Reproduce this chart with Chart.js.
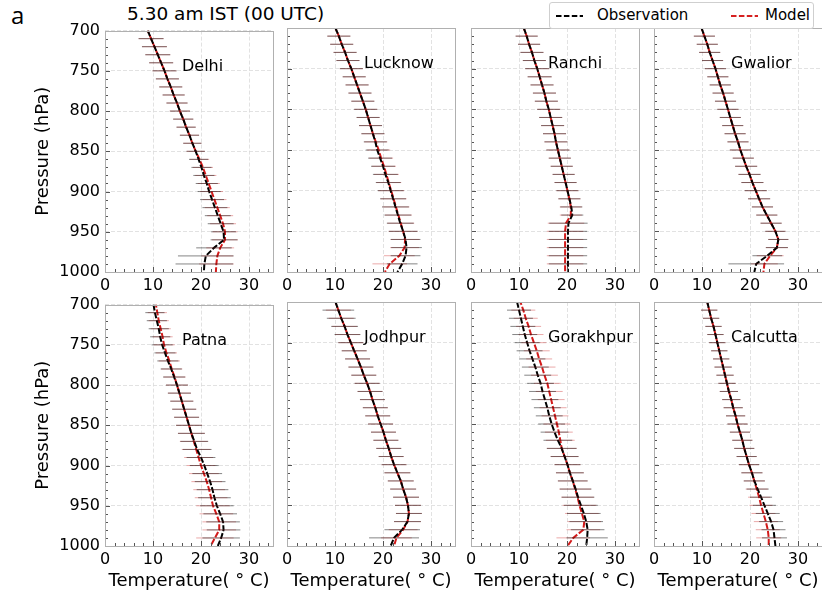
<!DOCTYPE html>
<html>
<head>
<meta charset="utf-8">
<script src="https://cdn.jsdelivr.net/npm/chart.js@4.4.1/dist/chart.umd.min.js"></script>
<style>
  body { margin: 0; background: #fff; width: 822px; height: 597px; position: relative; overflow: hidden; font-family: 'DejaVu Sans', sans-serif; }
  canvas { position: absolute; }
  #lbl-a { position: absolute; left: 11px; top: -2px; font: 24px 'Open Sans', sans-serif; color: #000; }
  #title { position: absolute; left: 127px; top: 3px; font-size: 18.5px; color: #000; white-space: nowrap; }
  #legend { position: absolute; left: 549px; top: 2px; width: 263px; height: 25px; border: 1px solid #cfcfcf; border-radius: 3px; background: #fff; z-index: 5; font-size: 15px; }
  #legend svg, #legend span { position: absolute; }
  #legend span { top: 3px; white-space: nowrap; }
</style>
</head>
<body>
<div id="lbl-a">a</div>
<div id="title">5.30 am IST (00 UTC)</div>
<div id="legend">
  <svg style="left:6px;top:11px" width="27" height="4"><line x1="0" y1="2" x2="27" y2="2" stroke="#000" stroke-width="1.8" stroke-dasharray="5.5 2.4"/></svg>
  <span style="left:47px">Observation</span>
  <svg style="left:181px;top:11px" width="27" height="4"><line x1="0" y1="2" x2="27" y2="2" stroke="#d62020" stroke-width="1.8" stroke-dasharray="5.5 2.4"/></svg>
  <span style="left:215px">Model</span>
</div>
<script>
/* ── data ─────────────────────────────────────────────── */
const LEVELS = [700,710,720,730,740,750,760,770,780,790,800,810,820,830,840,850,860,870,880,890,900,910,920,930,940,950,960,970,980,990,1000];
const BAR_LEVELS = [710,720,730,740,750,760,770,780,790,800,810,820,830,840,850,860,870,880,890,900,910,920,930,940,950,960,970,980,990];
const STATIONS = ['Delhi','Lucknow','Ranchi','Gwalior','Patna','Jodhpur','Gorakhpur','Calcutta'];
const X_TICKS = [0,10,20,30];
const Y_TICKS = [700,750,800,850,900,950,1000];

// temperature (°C) at LEVELS
const delhiObs = [8.9,9.6,10.3,11.0,11.7,12.4,13.0,13.7,14.3,15.0,15.6,16.3,16.9,17.6,18.2,18.9,19.5,20.1,20.6,21.2,21.7,22.3,22.9,23.5,24.1,24.7,24.8,22.7,21.0,20.7,20.6];
const delhiModel = [8.9,9.6,10.3,11.0,11.7,12.4,13.0,13.7,14.3,15.0,15.6,16.3,16.9,17.6,18.2,18.9,19.7,20.4,21.0,21.6,22.2,22.8,23.4,24.0,24.6,25.0,25.0,24.0,23.4,23.2,23.1];
const lucknowObs = [10.1,10.8,11.4,12.1,12.7,13.4,14.0,14.6,15.2,15.8,16.4,16.9,17.4,17.9,18.4,18.8,19.4,20.0,20.5,21.1,21.6,22.1,22.6,23.1,23.6,24.2,24.7,24.9,24.7,24.0,23.0];
const lucknowModel = [10.1,10.8,11.4,12.1,12.7,13.4,14.0,14.6,15.2,15.8,16.4,16.9,17.4,17.9,18.5,19.1,19.6,20.2,20.7,21.2,21.7,22.2,22.7,23.2,23.7,24.2,24.6,24.5,23.4,21.4,20.4];
const ranchiObs = [11.0,11.6,12.1,12.7,13.2,13.8,14.3,14.8,15.3,15.7,16.2,16.6,17.0,17.4,17.7,18.1,18.5,18.9,19.3,19.7,20.1,20.5,20.9,21.1,20.3,20.2,20.2,20.2,20.2,20.2,20.2];
const ranchiModel = [11.0,11.6,12.1,12.7,13.2,13.8,14.3,14.8,15.3,15.7,16.2,16.6,17.0,17.4,17.7,18.1,18.5,18.9,19.3,19.7,20.1,20.5,20.8,20.8,19.8,19.6,19.6,19.6,19.6,19.6,19.6];
const gwaliorObs = [9.9,10.5,11.1,11.6,12.2,12.8,13.3,13.8,14.4,14.9,15.4,15.9,16.4,16.9,17.5,18.0,18.6,19.2,19.9,20.5,21.2,21.9,22.6,23.5,24.4,25.3,25.9,25.6,23.6,21.3,20.9];
const gwaliorModel = [9.9,10.5,11.1,11.6,12.2,12.8,13.3,13.8,14.4,14.9,15.4,15.9,16.4,16.9,17.5,18.0,18.6,19.2,19.9,20.5,21.2,21.9,22.6,23.5,24.4,25.3,25.9,25.6,24.2,23.0,22.8];
const patnaObs = [10.1,10.4,10.8,11.2,11.5,11.9,12.5,13.1,13.8,14.4,15.0,15.5,16.0,16.5,17.0,17.5,18.0,18.6,19.2,20.0,20.7,21.3,21.9,22.4,22.8,23.3,24.0,24.6,24.7,24.2,23.5];
const patnaModel = [10.6,10.9,11.2,11.6,12.0,12.3,12.8,13.4,13.9,14.5,15.0,15.5,16.0,16.5,17.0,17.5,18.0,18.5,19.0,19.5,20.0,20.6,21.2,21.7,22.1,22.5,23.2,23.8,23.8,22.9,22.0];
const jodhpurObs = [10.1,10.7,11.3,12.0,12.6,13.3,14.0,14.7,15.4,16.0,16.7,17.3,17.8,18.4,18.9,19.5,20.1,20.6,21.2,21.7,22.3,23.0,23.7,24.2,24.8,25.2,25.4,25.1,24.0,22.3,21.6];
const jodhpurModel = [10.1,10.7,11.3,12.0,12.6,13.3,14.0,14.7,15.4,16.0,16.7,17.3,17.8,18.4,18.9,19.5,20.1,20.6,21.2,21.7,22.3,23.0,23.7,24.2,24.8,25.2,25.4,25.1,24.2,22.8,22.3];
const gorakhpurObs = [9.6,10.0,10.4,10.8,11.2,11.7,12.2,12.8,13.4,13.9,14.5,14.9,15.4,15.9,16.3,16.8,17.4,18.1,18.9,19.5,20.1,20.6,21.2,21.8,22.3,22.9,23.5,24.0,24.3,24.2,24.0];
const gorakhpurModel = [10.3,10.9,11.4,12.0,12.5,13.1,13.7,14.2,14.8,15.3,15.9,16.3,16.7,17.1,17.5,17.9,18.3,18.6,18.9,19.5,20.1,20.6,21.2,21.7,22.2,22.6,23.1,23.6,23.4,21.3,20.1];
const calcuttaObs = [11.1,11.5,11.9,12.4,12.8,13.2,13.6,14.0,14.4,14.8,15.2,15.6,16.1,16.5,17.0,17.4,17.9,18.4,18.8,19.3,19.8,20.4,20.9,21.6,22.3,23.0,23.7,24.4,24.9,25.1,25.3];
const calcuttaModel = [11.1,11.5,11.9,12.4,12.8,13.2,13.6,14.0,14.4,14.8,15.2,15.6,16.1,16.5,17.0,17.4,17.9,18.4,18.8,19.3,19.8,20.4,20.9,21.4,21.9,22.3,22.8,23.3,23.7,23.9,23.9];

// half-width of the spread (°C) at BAR_LEVELS
const delhiObsErr = [2.6,2.6,2.6,2.5,2.5,2.4,2.4,2.3,2.2,2.1,2.1,2.0,2.0,1.9,1.9,2.0,2.1,2.2,2.3,2.4,2.5,2.6,2.7,2.7,2.6,2.8,3.7,5.8,6.0];
const delhiModelErr = [2.6,2.6,2.6,2.5,2.5,2.4,2.4,2.3,2.2,2.1,2.1,2.0,2.0,1.9,1.9,2.0,2.1,2.2,2.3,2.4,2.5,2.6,2.7,2.7,2.6,2.7,2.9,3.3,3.6];
const lucknowObsErr = [2.4,2.4,2.4,2.4,2.4,2.4,2.4,2.4,2.4,2.4,2.4,2.4,2.4,2.4,2.4,2.5,2.5,2.6,2.6,2.7,2.7,2.8,2.8,2.8,3.0,3.1,3.2,3.1,3.2];
const lucknowModelErr = [2.4,2.4,2.4,2.4,2.4,2.4,2.4,2.4,2.4,2.4,2.4,2.4,2.4,2.4,2.4,2.5,2.5,2.6,2.6,2.7,2.7,2.8,2.8,2.8,3.0,3.0,3.0,3.2,3.6];
const ranchiObsErr = [2.3,2.3,2.4,2.4,2.5,2.5,2.4,2.4,2.4,2.4,2.4,2.4,2.4,2.4,2.4,2.3,2.3,2.3,2.3,2.3,2.3,2.3,2.3,4.0,4.0,4.0,4.0,4.0,4.0];
const ranchiModelErr = [2.3,2.3,2.4,2.4,2.5,2.5,2.4,2.4,2.4,2.4,2.4,2.4,2.4,2.4,2.4,2.3,2.3,2.3,2.3,2.3,2.3,2.3,2.3,3.8,3.8,3.8,3.8,3.8,3.8];
const gwaliorObsErr = [2.2,2.2,2.2,2.2,2.2,2.2,2.2,2.2,2.2,2.2,2.2,2.2,2.2,2.2,2.2,2.2,2.3,2.3,2.3,2.3,2.3,2.2,2.2,2.2,2.1,2.1,2.3,3.1,5.8];
const gwaliorModelErr = [2.2,2.2,2.2,2.2,2.2,2.2,2.2,2.2,2.2,2.2,2.2,2.2,2.2,2.2,2.2,2.2,2.3,2.3,2.3,2.3,2.3,2.2,2.2,2.2,2.1,2.1,2.3,2.8,2.8];
const patnaObsErr = [2.0,2.1,2.1,2.1,2.2,2.2,2.2,2.2,2.3,2.3,2.4,2.4,2.5,2.6,2.7,2.8,2.9,3.0,3.0,3.0,3.1,3.2,3.3,3.4,3.5,3.5,3.5,3.5,3.9];
const patnaModelErr = [2.0,2.1,2.1,2.1,2.2,2.2,2.2,2.2,2.3,2.3,2.4,2.4,2.5,2.6,2.7,2.8,2.9,3.0,3.0,3.0,3.1,3.2,3.3,3.4,3.5,3.5,3.5,3.5,3.9];
const jodhpurObsErr = [3.3,3.0,2.8,2.7,2.6,2.6,2.6,2.6,2.6,2.6,2.6,2.6,2.6,2.6,2.6,2.6,2.6,2.6,2.6,2.6,2.7,2.7,2.7,2.7,2.7,2.7,2.8,3.7,5.2];
const jodhpurModelErr = [2.6,2.6,2.6,2.6,2.6,2.6,2.6,2.6,2.6,2.6,2.6,2.6,2.6,2.6,2.6,2.6,2.6,2.6,2.6,2.6,2.7,2.7,2.7,2.7,2.7,2.7,2.8,3.0,3.2];
const gorakhpurObsErr = [2.5,2.5,2.6,2.6,2.6,2.7,2.7,2.8,2.8,2.8,2.8,2.8,2.8,2.8,2.8,2.9,3.0,3.1,2.9,2.7,2.9,3.1,3.3,3.4,3.5,3.5,3.5,3.5,4.3];
const gorakhpurModelErr = [2.5,2.5,2.6,2.6,2.6,2.7,2.7,2.8,2.8,2.8,2.8,2.8,2.8,2.8,2.8,2.9,3.0,3.1,2.9,2.7,2.9,3.1,3.3,3.4,3.5,3.5,3.5,3.5,3.5];
const calcuttaObsErr = [1.7,1.7,1.7,1.7,1.7,1.7,1.7,1.8,1.8,1.8,1.9,1.9,2.0,2.0,2.1,2.1,2.1,2.1,2.1,2.1,2.2,2.2,2.3,2.3,2.4,2.5,2.5,2.5,2.6];
const calcuttaModelErr = [1.7,1.7,1.7,1.7,1.7,1.7,1.7,1.8,1.8,1.8,1.9,1.9,2.0,2.0,2.1,2.1,2.1,2.1,2.1,2.1,2.2,2.2,2.3,2.3,2.4,2.5,2.5,2.5,2.6];

const OBS = [delhiObs, lucknowObs, ranchiObs, gwaliorObs, patnaObs, jodhpurObs, gorakhpurObs, calcuttaObs];
const MODEL = [delhiModel, lucknowModel, ranchiModel, gwaliorModel, patnaModel, jodhpurModel, gorakhpurModel, calcuttaModel];
const OBS_ERR = [delhiObsErr, lucknowObsErr, ranchiObsErr, gwaliorObsErr, patnaObsErr, jodhpurObsErr, gorakhpurObsErr, calcuttaObsErr];
const MODEL_ERR = [delhiModelErr, lucknowModelErr, ranchiModelErr, gwaliorModelErr, patnaModelErr, jodhpurModelErr, gorakhpurModelErr, calcuttaModelErr];

/* ── layout ───────────────────────────────────────────── */
const FONT = 'DejaVu Sans';
const FRAME_LEFT = [105, 287, 471, 654];
const FRAME_TOP = [28, 302];
const FRAME_W = 168, FRAME_H = 244;
const PAD_TOP = 12, PAD_RIGHT = 6;

const profile = (temps) => LEVELS.map((p, i) => ({ x: temps[i], y: p }));

// each bar is a two-point segment, separated by null points so the line breaks
function spreadBars(temps, err) {
  const out = [];
  BAR_LEVELS.forEach((p, i) => {
    const t = temps[LEVELS.indexOf(p)];
    out.push({ x: t - err[i], y: p }, { x: t + err[i], y: p }, { x: null, y: null });
  });
  return out;
}

const panelDeco = {
  id: 'panelDeco',
  afterDraw(chart, args, opts) {
    const { ctx, chartArea: a, scales: { x, y } } = chart;
    ctx.save();
    // inward ticks, left and bottom
    ctx.strokeStyle = '#555';
    ctx.lineWidth = 1;
    ctx.beginPath();
    for (let p = 700; p <= 1000; p += 10) {
      const py = Math.round(y.getPixelForValue(p)) + 0.5;
      const len = p % 50 === 0 ? 5 : 3;
      ctx.moveTo(a.left, py); ctx.lineTo(a.left + len, py);
    }
    for (let t = 0; t <= 35; t += 2) {
      const px = Math.round(x.getPixelForValue(t)) + 0.5;
      const len = t % 10 === 0 ? 5 : 3;
      ctx.moveTo(px, a.bottom); ctx.lineTo(px, a.bottom - len);
    }
    ctx.stroke();
    // frame
    ctx.strokeStyle = '#b0b0b0';
    ctx.strokeRect(Math.round(a.left) + 0.5, Math.round(a.top) + 0.5, Math.round(a.width), Math.round(a.height));
    // station name
    ctx.fillStyle = '#000';
    ctx.font = `16px '${FONT}'`;
    ctx.textBaseline = 'middle';
    ctx.fillText(opts.name, a.left + 77, a.top + 36);
    ctx.restore();
  }
};

STATIONS.forEach((name, k) => {
  const col = k % 4, row = Math.floor(k / 4);
  const yW = col === 0 ? 105 : 14;
  const xH = row === 0 ? 24 : 597 - (FRAME_TOP[1] + FRAME_H);
  const cv = document.createElement('canvas');
  cv.width = yW + FRAME_W + PAD_RIGHT;
  cv.height = PAD_TOP + FRAME_H + xH;
  cv.style.left = (FRAME_LEFT[col] - yW) + 'px';
  cv.style.top = (FRAME_TOP[row] - PAD_TOP) + 'px';
  document.body.appendChild(cv);

  new Chart(cv, {
    type: 'scatter',
    data: {
      datasets: [
        { data: spreadBars(OBS[k], OBS_ERR[k]), showLine: true, spanGaps: false, borderColor: 'rgba(0,0,0,0.48)', borderWidth: 1, pointRadius: 0 },
        { data: spreadBars(MODEL[k], MODEL_ERR[k]), showLine: true, spanGaps: false, borderColor: 'rgba(205,50,50,0.42)', borderWidth: 1, pointRadius: 0 },
        { data: profile(OBS[k]), showLine: true, borderColor: '#000', borderWidth: 2, borderDash: [6, 2], pointRadius: 0 },
        { data: profile(MODEL[k]), showLine: true, borderColor: '#d21a1a', borderWidth: 2, borderDash: [6, 2], borderDashOffset: 3, pointRadius: 0 }
      ]
    },
    options: {
      responsive: false,
      animation: false,
      events: [],
      layout: { padding: { top: PAD_TOP, right: PAD_RIGHT, left: 0, bottom: 0 } },
      plugins: { legend: { display: false }, tooltip: { enabled: false }, panelDeco: { name } },
      scales: {
        x: {
          type: 'linear', position: 'bottom', min: 0, max: 35,
          afterBuildTicks: s => { s.ticks = X_TICKS.map(v => ({ value: v })); },
          afterFit: s => { s.height = xH; },
          grid: { color: '#dadada', lineWidth: 0.8, drawTicks: false },
          border: { display: false, dash: [4, 2] },
          ticks: { padding: 4, color: '#000', font: { family: FONT, size: 16 }, maxRotation: 0, autoSkip: false, callback: v => String(v) },
          title: { display: row === 1, text: 'Temperature( ° C)', color: '#000', font: { family: FONT, size: 18 }, padding: { top: 0, bottom: 5 } }
        },
        y: {
          type: 'linear', position: 'left', min: 700, max: 1000, reverse: true,
          afterBuildTicks: s => { s.ticks = Y_TICKS.map(v => ({ value: v })); },
          afterFit: s => { s.width = yW; },
          grid: { color: '#dadada', lineWidth: 0.8, drawTicks: false },
          border: { display: false, dash: [4, 2] },
          ticks: { display: col === 0, padding: 5, color: '#000', font: { family: FONT, size: 16 }, callback: v => String(v) },
          title: { display: col === 0, text: 'Pressure (hPa)', color: '#000', font: { family: FONT, size: 18 }, padding: { top: 33, bottom: 0 } }
        }
      }
    },
    plugins: [panelDeco]
  });
});
</script>
</body>
</html>
